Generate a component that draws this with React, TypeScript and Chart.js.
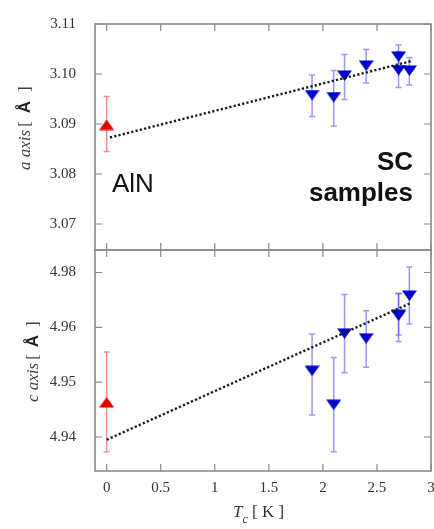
import React, { useEffect, useRef } from "react";
import { Chart, registerables } from "chart.js";
Chart.register(...registerables);

// ---------- data ----------
const tcSC = [1.9, 2.1, 2.2, 2.4, 2.7, 2.7, 2.8];
const aSC = [3.0958, 3.0954, 3.0997, 3.1017, 3.1035, 3.1008, 3.1007];
const aSCHigh = [3.0998, 3.1007, 3.1039, 3.1049, 3.1058, 3.1045, 3.1033];
const aSCLow = [3.0915, 3.0896, 3.0949, 3.0982, 3.1012, 3.0973, 3.0978];
const tcAlN = [0];
const aAlN = [3.0898];
const aAlNHigh = [3.0955];
const aAlNLow = [3.0845];
const aFitT = [0.03, 2.82];
const aFitV = [3.0873, 3.1026];

const cSC = [4.9521, 4.9459, 4.9589, 4.958, 4.9623, 4.9622, 4.9658];
const cSCHigh = [4.9588, 4.9545, 4.966, 4.963, 4.9662, 4.9661, 4.971];
const cSCLow = [4.944, 4.9373, 4.9517, 4.9527, 4.9586, 4.9574, 4.9606];
const cAlN = [4.9463];
const cAlNHigh = [4.9555];
const cAlNLow = [4.9373];
const cFitT = [0, 2.82];
const cFitV = [4.9395, 4.9645];

const tcTicks = [0, 0.5, 1, 1.5, 2, 2.5, 3];
const tcTickLabels = ["0", "0.5", "1", "1.5", "2", "2.5", "3"];
const aTicks = [3.07, 3.08, 3.09, 3.1, 3.11];
const aTickLabels = ["3.07", "3.08", "3.09", "3.10", "3.11"];
const cTicks = [4.94, 4.95, 4.96, 4.97];
const cTickLabels = ["4.94", "4.95", "4.96", "4.98"];
const tcRange = [-0.108, 3.0];
const aRange = [3.0648, 3.11];
const cRange = [4.9338, 4.9741];

// ---------- styles ----------
const SERIF = "'Liberation Serif', 'DejaVu Serif', serif";
const SANS = "'Liberation Sans', Arial, sans-serif";
const FRAME = "#8a8a8a";
const BLUE = "#0000cc";
const RED = "#e00000";
const BLUE_ERR = "rgba(70,70,235,0.55)";
const RED_ERR = "rgba(235,50,50,0.55)";

function makeMarker(kind: "up" | "down", color: string) {
  const c = document.createElement("canvas");
  c.width = 15;
  c.height = 11;
  const g = c.getContext("2d")!;
  g.fillStyle = color;
  g.beginPath();
  if (kind === "down") {
    g.moveTo(0, 0.5);
    g.lineTo(15, 0.5);
    g.lineTo(7.5, 11);
  } else {
    g.moveTo(7.5, 0);
    g.lineTo(15, 10.5);
    g.lineTo(0, 10.5);
  }
  g.closePath();
  g.fill();
  return c;
}

const pts = (xs: number[], ys: number[]) => xs.map((x, i) => ({ x, y: ys[i] }));

const errorBarPlugin = {
  id: "errbars",
  beforeDatasetsDraw(chart: any) {
    const ctx = chart.ctx;
    const ys = chart.scales.y;
    chart.data.datasets.forEach((ds: any, di: number) => {
      if (!ds.errLow) return;
      const meta = chart.getDatasetMeta(di);
      ctx.save();
      ctx.strokeStyle = ds.errColor;
      ctx.lineWidth = 1.5;
      meta.data.forEach((el: any, i: number) => {
        const x = el.x;
        const y1 = ys.getPixelForValue(ds.errLow[i]);
        const y2 = ys.getPixelForValue(ds.errHigh[i]);
        ctx.beginPath();
        ctx.moveTo(x, y1);
        ctx.lineTo(x, y2);
        ctx.moveTo(x - 3, y1);
        ctx.lineTo(x + 3, y1);
        ctx.moveTo(x - 3, y2);
        ctx.lineTo(x + 3, y2);
        ctx.stroke();
      });
      ctx.restore();
    });
  },
};

function makeFramePlugin(yTicks: number[]) {
  return {
    id: "frame",
    afterDatasetsDraw(chart: any) {
      const ctx = chart.ctx;
      const { left, right, top, bottom } = chart.chartArea;
      const xs = chart.scales.x;
      const ys = chart.scales.y;
      ctx.save();
      ctx.strokeStyle = FRAME;
      ctx.lineWidth = 1.2;
      const L = 7;
      ctx.beginPath();
      tcTicks.forEach((v) => {
        const px = xs.getPixelForValue(v);
        ctx.moveTo(px, top);
        ctx.lineTo(px, top + L);
        ctx.moveTo(px, bottom);
        ctx.lineTo(px, bottom - L);
      });
      yTicks.forEach((v) => {
        const py = ys.getPixelForValue(v);
        ctx.moveTo(left, py);
        ctx.lineTo(left + L, py);
        ctx.moveTo(right, py);
        ctx.lineTo(right - L, py);
      });
      ctx.stroke();
      ctx.lineWidth = 1.6;
      ctx.strokeRect(left, top, right - left, bottom - top);
      ctx.restore();
    },
  };
}

type Seg = { text: string; font: string; color: string; gap?: number };

function drawVTitle(ctx: CanvasRenderingContext2D, baseX: number, startY: number, segs: Seg[]) {
  ctx.save();
  ctx.translate(baseX, startY);
  ctx.rotate(-Math.PI / 2);
  ctx.textBaseline = "alphabetic";
  ctx.textAlign = "left";
  let x = 0;
  segs.forEach((s) => {
    x += s.gap || 0;
    ctx.font = s.font;
    ctx.fillStyle = s.color;
    ctx.fillText(s.text, x, 0);
    x += ctx.measureText(s.text).width;
  });
  ctx.restore();
}

function makeTopTextPlugin() {
  return {
    id: "toptext",
    afterDraw(chart: any) {
      const ctx = chart.ctx;
      ctx.save();
      ctx.fillStyle = "#111";
      ctx.textBaseline = "alphabetic";
      ctx.font = `26px ${SANS}`;
      ctx.textAlign = "left";
      ctx.fillText("AlN", 112, 192);
      ctx.font = `bold 26px ${SANS}`;
      ctx.textAlign = "right";
      ctx.fillText("SC", 413, 170);
      ctx.fillText("samples", 413, 201);
      ctx.restore();
      drawVTitle(ctx, 30, 170, [
        { text: "a axis", font: `italic 17px ${SERIF}`, color: "#444" },
        { text: "[", font: `17px ${SERIF}`, color: "#444", gap: 3 },
        { text: "Å", font: `bold 17px ${SANS}`, color: "#222", gap: 8 },
        { text: "]", font: `17px ${SERIF}`, color: "#444", gap: 9 },
      ]);
    },
  };
}

function makeBottomTextPlugin() {
  return {
    id: "bottext",
    afterDraw(chart: any) {
      const ctx = chart.ctx;
      drawVTitle(ctx, 37.5, 402, [
        { text: "c axis", font: `italic 17px ${SERIF}`, color: "#444" },
        { text: "[", font: `17px ${SERIF}`, color: "#444", gap: 3 },
        { text: "Å", font: `bold 17px ${SANS}`, color: "#222", gap: 7 },
        { text: "]", font: `17px ${SERIF}`, color: "#444", gap: 8 },
      ]);
      ctx.save();
      ctx.fillStyle = "#333";
      ctx.textBaseline = "alphabetic";
      ctx.textAlign = "left";
      let x = 233;
      const base = 517;
      ctx.font = `italic 17px ${SERIF}`;
      ctx.fillText("T", x, base);
      x += ctx.measureText("T").width;
      ctx.font = `italic 12px ${SERIF}`;
      ctx.fillText("c", x, base + 6);
      x += ctx.measureText("c").width;
      ctx.font = `17px ${SERIF}`;
      ctx.fillText(" [ K ]", x, base);
      ctx.restore();
    },
  };
}

function setTicks(values: number[]) {
  return (s: any) => {
    s.ticks = values.map((v) => ({ value: v }));
  };
}

function buildDatasets(
  fitT: number[], fitV: number[],
  alnT: number[], alnV: number[], alnLo: number[], alnHi: number[],
  scT: number[], scV: number[], scLo: number[], scHi: number[],
  upMarker: HTMLCanvasElement, downMarker: HTMLCanvasElement
) {
  return [
    {
      type: "line",
      data: pts(fitT, fitV),
      showLine: true,
      borderColor: "#1a1a1a",
      borderWidth: 2.4,
      borderDash: [2.2, 2.2],
      pointRadius: 0,
      fill: false,
    },
    {
      data: pts(alnT, alnV),
      pointStyle: upMarker,
      pointRadius: 5,
      errLow: alnLo,
      errHigh: alnHi,
      errColor: RED_ERR,
      clip: false,
    },
    {
      data: pts(scT, scV),
      pointStyle: downMarker,
      pointRadius: 5,
      errLow: scLo,
      errHigh: scHi,
      errColor: BLUE_ERR,
      clip: false,
    },
  ];
}

const W = 434;
const H = 529;

export default function App() {
  const topRef = useRef<HTMLCanvasElement>(null);
  const botRef = useRef<HTMLCanvasElement>(null);

  useEffect(() => {
    const up = makeMarker("up", RED);
    const down = makeMarker("down", BLUE);
    const tickFont = { family: SERIF, size: 15 };

    const top = new Chart(topRef.current as HTMLCanvasElement, {
      type: "scatter",
      data: {
        datasets: buildDatasets(aFitT, aFitV, tcAlN, aAlN, aAlNLow, aAlNHigh, tcSC, aSC, aSCLow, aSCHigh, up, down) as any,
      },
      options: {
        responsive: false,
        maintainAspectRatio: false,
        animation: false,
        devicePixelRatio: 1,
        layout: { autoPadding: false, padding: { left: 0, right: 3, top: 24, bottom: H - 250 } },
        plugins: { legend: { display: false }, tooltip: { enabled: false } },
        scales: {
          x: {
            type: "linear",
            min: tcRange[0],
            max: tcRange[1],
            display: false,
            afterBuildTicks: setTicks(tcTicks),
          },
          y: {
            type: "linear",
            min: aRange[0],
            max: aRange[1],
            afterBuildTicks: setTicks(aTicks),
            afterFit: (s: any) => {
              s.width = 95;
              s.paddingTop = 0;
              s.paddingBottom = 0;
            },
            grid: { display: false, drawTicks: false },
            border: { display: false },
            ticks: {
              padding: 19,
              color: "#333",
              font: tickFont,
              callback: (_v: any, i: number) => aTickLabels[i],
            },
          },
        },
      } as any,
      plugins: [errorBarPlugin, makeFramePlugin(aTicks), makeTopTextPlugin()] as any,
    });

    const bot = new Chart(botRef.current as HTMLCanvasElement, {
      type: "scatter",
      data: {
        datasets: buildDatasets(cFitT, cFitV, tcAlN, cAlN, cAlNLow, cAlNHigh, tcSC, cSC, cSCLow, cSCHigh, up, down) as any,
      },
      options: {
        responsive: false,
        maintainAspectRatio: false,
        animation: false,
        devicePixelRatio: 1,
        layout: { autoPadding: false, padding: { left: 0, right: 3, top: 250, bottom: 0 } },
        plugins: { legend: { display: false }, tooltip: { enabled: false } },
        scales: {
          x: {
            type: "linear",
            min: tcRange[0],
            max: tcRange[1],
            afterBuildTicks: setTicks(tcTicks),
            afterFit: (s: any) => {
              s.height = 58;
              s.paddingLeft = 0;
              s.paddingRight = 0;
            },
            grid: { display: false, drawTicks: false },
            border: { display: false },
            ticks: {
              padding: 8,
              color: "#333",
              font: tickFont,
              autoSkip: false,
              maxRotation: 0,
              callback: (_v: any, i: number) => tcTickLabels[i],
            },
          },
          y: {
            type: "linear",
            min: cRange[0],
            max: cRange[1],
            afterBuildTicks: setTicks(cTicks),
            afterFit: (s: any) => {
              s.width = 95;
              s.paddingTop = 0;
              s.paddingBottom = 0;
            },
            grid: { display: false, drawTicks: false },
            border: { display: false },
            ticks: {
              padding: 19,
              color: "#333",
              font: tickFont,
              callback: (_v: any, i: number) => cTickLabels[i],
            },
          },
        },
      } as any,
      plugins: [errorBarPlugin, makeFramePlugin(cTicks), makeBottomTextPlugin()] as any,
    });

    return () => {
      top.destroy();
      bot.destroy();
    };
  }, []);

  return (
    <div style={{ position: "absolute", left: 0, top: 0, width: W, height: H, background: "#fff", overflow: "hidden" }}>
      <canvas ref={botRef} width={W} height={H} style={{ position: "absolute", left: 0, top: 0 }} />
      <canvas ref={topRef} width={W} height={H} style={{ position: "absolute", left: 0, top: 0 }} />
    </div>
  );
}
